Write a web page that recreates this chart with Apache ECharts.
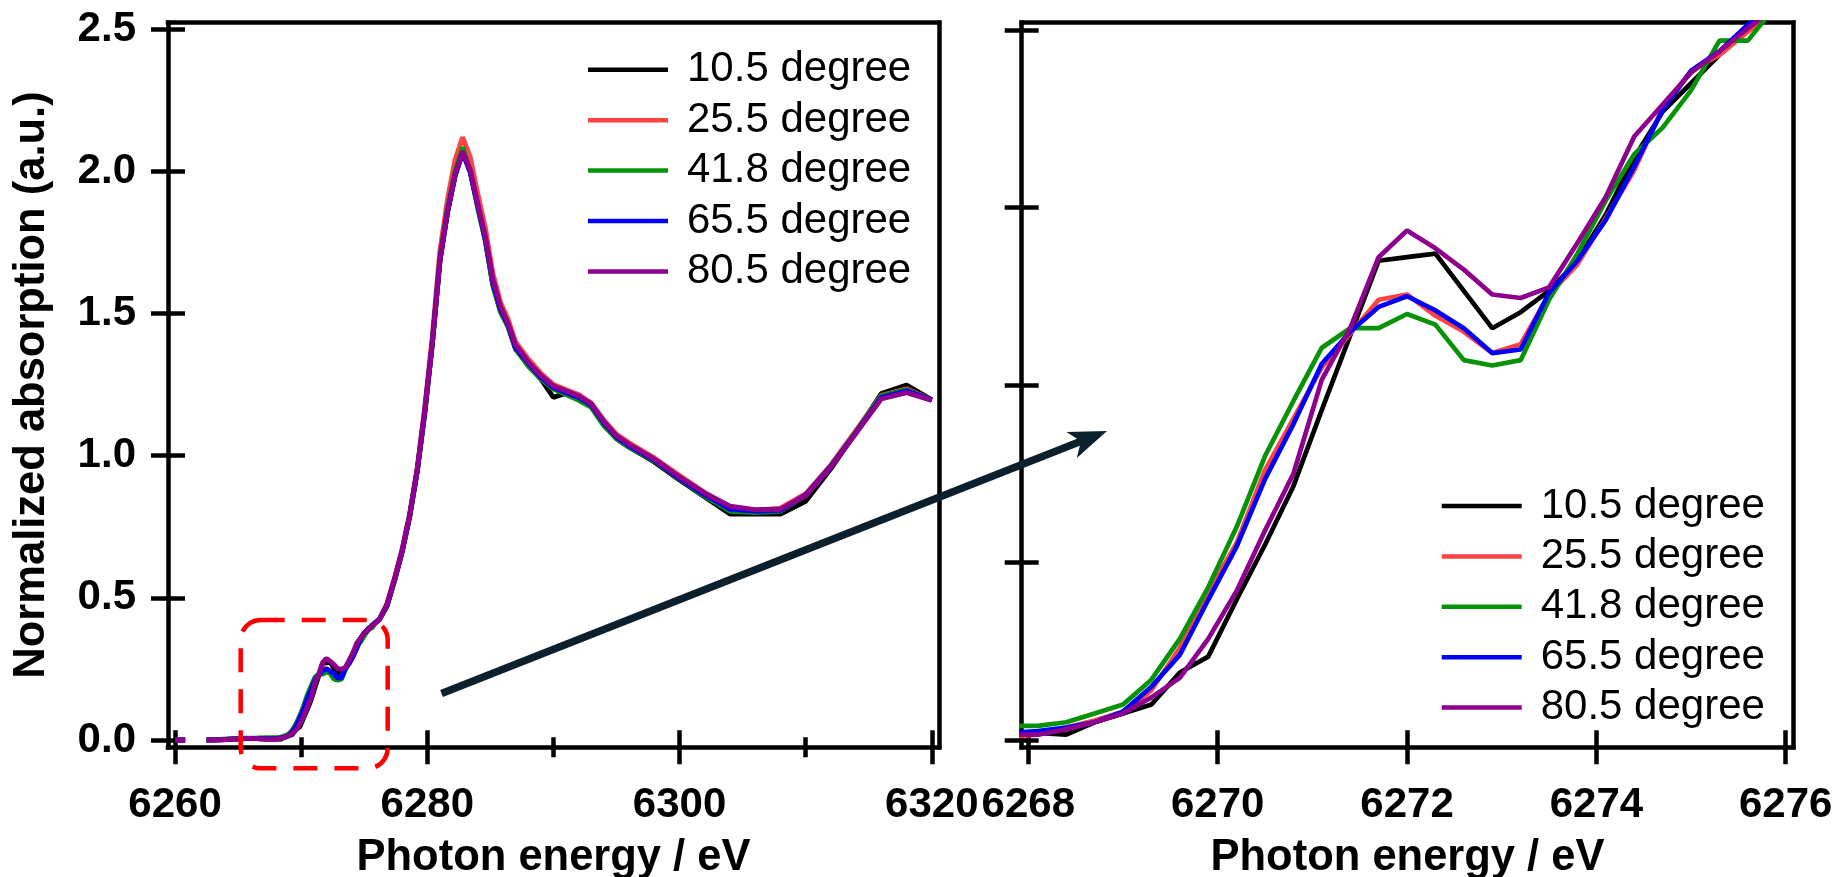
<!DOCTYPE html>
<html>
<head>
<meta charset="utf-8">
<title>Normalized absorption vs photon energy</title>
<script src="https://cdn.jsdelivr.net/npm/echarts@6/dist/echarts.min.js"></script>
<style>
  html, body { margin: 0; padding: 0; background: #ffffff; }
  #chart { width: 1839px; height: 877px; }
</style>
</head>
<body>
<div id="chart"></div>
<script>
// Photon energy (eV) shared by every spectrum; null values mark the missing stretch near 6261 eV
const energy = [
  6260.0, 6260.8, 6261.6, 6262.5, 6263.5, 6264.5, 6265.5, 6266.5, 6267.2,
  6267.8, 6268.1, 6268.4, 6268.7, 6269.0, 6269.3, 6269.6, 6269.9, 6270.2, 6270.5,
  6270.8, 6271.1, 6271.4, 6271.7, 6272.0, 6272.3, 6272.6, 6272.9, 6273.2, 6273.5,
  6273.8, 6274.1, 6274.4, 6274.7, 6275.0, 6275.3, 6275.6, 6275.9, 6276.2,
  6276.8, 6277.4, 6278.0, 6278.6, 6279.2, 6279.8, 6280.4, 6281.0, 6281.6, 6282.2,
  6282.8, 6283.4, 6284.0, 6284.6, 6285.2, 6285.8, 6286.4, 6287.0,
  6288.0, 6289.0, 6290.0, 6291.0, 6292.0, 6293.0, 6294.0, 6295.0, 6296.0,
  6298.0, 6300.0, 6302.0, 6304.0, 6306.0, 6308.0, 6310.0, 6312.0, 6314.0,
  6316.0, 6318.0, 6320.0
];

const deg10_5 = [
  0.000, 0.000, null, 0.000, 0.001, 0.003, 0.005, 0.005, 0.004,
  0.004, 0.004, 0.003, 0.010, 0.015, 0.020, 0.038, 0.047, 0.079, 0.110,
  0.143, 0.186, 0.228, 0.270, 0.272, 0.274, 0.253, 0.232, 0.241, 0.253,
  0.270, 0.296, 0.328, 0.354, 0.370, 0.386, 0.400, 0.412, 0.424,
  0.470, 0.560, 0.660, 0.785, 0.945, 1.150, 1.395, 1.685, 1.855, 1.985,
  2.070, 2.000, 1.880, 1.760, 1.600, 1.510, 1.455, 1.375,
  1.320, 1.270, 1.205, 1.220, 1.205, 1.175, 1.110, 1.060, 1.030,
  0.978, 0.915, 0.855, 0.795, 0.795, 0.795, 0.840, 0.955, 1.085,
  1.218, 1.248, 1.196
];

const deg25_5 = [
  0.000, 0.000, null, 0.000, 0.001, 0.003, 0.005, 0.005, 0.003,
  0.002, 0.003, 0.007, 0.011, 0.016, 0.028, 0.052, 0.083, 0.111, 0.152,
  0.181, 0.210, 0.229, 0.248, 0.251, 0.239, 0.230, 0.218, 0.223, 0.251,
  0.268, 0.294, 0.321, 0.356, 0.377, 0.386, 0.399, 0.412, 0.424,
  0.480, 0.570, 0.670, 0.795, 0.955, 1.170, 1.420, 1.720, 1.900, 2.040,
  2.120, 2.050, 1.920, 1.800, 1.640, 1.540, 1.480, 1.400,
  1.340, 1.290, 1.250, 1.232, 1.215, 1.185, 1.125, 1.075, 1.045,
  0.992, 0.930, 0.870, 0.820, 0.808, 0.815, 0.866, 0.968, 1.090,
  1.212, 1.235, 1.196
];

const deg41_8 = [
  0.000, 0.000, null, 0.000, 0.002, 0.004, 0.006, 0.007, 0.008,
  0.008, 0.008, 0.010, 0.015, 0.020, 0.034, 0.057, 0.086, 0.120, 0.160,
  0.191, 0.221, 0.232, 0.232, 0.240, 0.234, 0.214, 0.211, 0.214, 0.248,
  0.274, 0.304, 0.330, 0.345, 0.366, 0.394, 0.394, 0.414, 0.424,
  0.472, 0.562, 0.662, 0.787, 0.948, 1.155, 1.400, 1.695, 1.870, 2.000,
  2.085, 2.000, 1.870, 1.755, 1.600, 1.505, 1.455, 1.375,
  1.315, 1.270, 1.235, 1.215, 1.195, 1.170, 1.105, 1.060, 1.030,
  0.982, 0.918, 0.858, 0.805, 0.800, 0.805, 0.860, 0.962, 1.085,
  1.210, 1.232, 1.196
];

const deg65_5 = [
  0.000, 0.000, null, 0.000, 0.001, 0.003, 0.005, 0.005, 0.004,
  0.004, 0.005, 0.007, 0.010, 0.016, 0.030, 0.048, 0.079, 0.109, 0.147,
  0.178, 0.212, 0.230, 0.244, 0.250, 0.242, 0.232, 0.218, 0.220, 0.252,
  0.270, 0.293, 0.323, 0.355, 0.377, 0.388, 0.403, 0.414, 0.424,
  0.474, 0.564, 0.664, 0.788, 0.948, 1.155, 1.398, 1.688, 1.858, 1.985,
  2.065, 1.998, 1.880, 1.762, 1.610, 1.515, 1.460, 1.380,
  1.325, 1.276, 1.240, 1.222, 1.205, 1.178, 1.115, 1.065, 1.035,
  0.985, 0.920, 0.862, 0.812, 0.805, 0.808, 0.862, 0.962, 1.082,
  1.205, 1.228, 1.196
];

const deg80_5 = [
  0.000, 0.000, null, 0.000, 0.001, 0.003, 0.005, 0.005, 0.003,
  0.003, 0.003, 0.006, 0.010, 0.015, 0.024, 0.035, 0.057, 0.084, 0.118,
  0.150, 0.203, 0.232, 0.272, 0.287, 0.277, 0.265, 0.251, 0.249, 0.255,
  0.280, 0.306, 0.340, 0.358, 0.376, 0.388, 0.401, 0.413, 0.424,
  0.475, 0.565, 0.665, 0.790, 0.950, 1.160, 1.400, 1.690, 1.860, 1.990,
  2.070, 2.005, 1.885, 1.770, 1.620, 1.525, 1.465, 1.390,
  1.330, 1.282, 1.245, 1.228, 1.210, 1.182, 1.120, 1.070, 1.040,
  0.988, 0.925, 0.868, 0.822, 0.810, 0.812, 0.860, 0.960, 1.080,
  1.200, 1.222, 1.195
];

const seriesNames = ['10.5 degree', '25.5 degree', '41.8 degree', '65.5 degree', '80.5 degree'];
const seriesValues = [deg10_5, deg25_5, deg41_8, deg65_5, deg80_5];
const seriesColors = ['#000000', '#ff4343', '#069406', '#0000fe', '#8e008e'];

// Tick positions
const overviewXTicks = [6260, 6280, 6300, 6320];
const overviewXMinorTicks = [6270, 6290, 6310];
const overviewYTicks = [0, 0.5, 1.0, 1.5, 2.0, 2.5];
const detailXTicks = [6268, 6270, 6272, 6274, 6276];
const detailYTicks = [0, 0.1, 0.2, 0.3, 0.4];

const FONT = "'Liberation Sans', Arial, Helvetica, sans-serif";
const AXIS_W = 4.5;

const chart = echarts.init(document.getElementById('chart'), null, { renderer: 'canvas' });

// Panel geometry and ranges
const panels = [
  { left: 168, width: 771, xMin: 6259.44, xMax: 6320.57, yMin: -0.0257, yMax: 2.523, lw: 5 },
  { left: 1021.7, width: 771.6, xMin: 6267.93, xMax: 6276.08, yMin: -0.0041, yMax: 0.4041, lw: 4.7 }
];
const gridTop = 22.7, gridHeight = 724.6;

function lineStyle() { return { color: '#000', width: AXIS_W, cap: 'square' }; }

const titleStyle = { fontFamily: FONT, fontWeight: 'bold', fontSize: 43.5, color: '#000' };

function xAxis(gridIndex, p, cfg) {
  return {
    type: 'value', gridIndex, min: p.xMin, max: p.xMax,
    position: cfg.position || 'bottom',
    axisLine: { show: !!cfg.line, onZero: false, lineStyle: lineStyle() },
    axisTick: cfg.ticks ? {
      show: true, inside: !!cfg.inside, length: cfg.tickLen,
      customValues: cfg.ticks, lineStyle: { color: '#000', width: AXIS_W }
    } : { show: false },
    axisLabel: cfg.labels ? {
      show: true, customValues: cfg.labels, margin: 37,
      fontFamily: FONT, fontWeight: 'bold', fontSize: 42, color: '#000',
      formatter: v => String(Math.round(v))
    } : { show: false },
    name: cfg.name || '', nameLocation: 'middle', nameGap: 89,
    nameTextStyle: titleStyle,
    splitLine: { show: false }, minorTick: { show: false }
  };
}

function yAxis(gridIndex, p, cfg) {
  return {
    type: 'value', gridIndex, min: p.yMin, max: p.yMax,
    position: cfg.position || 'left',
    axisLine: { show: !!cfg.line, onZero: false, lineStyle: lineStyle() },
    axisTick: cfg.ticks ? {
      show: true, inside: !!cfg.inside, length: cfg.tickLen,
      customValues: cfg.ticks, lineStyle: { color: '#000', width: AXIS_W }
    } : { show: false },
    axisLabel: cfg.labels ? {
      show: true, customValues: cfg.labels, margin: 32,
      fontFamily: FONT, fontWeight: 'bold', fontSize: 42, color: '#000',
      formatter: v => v.toFixed(1)
    } : { show: false },
    name: cfg.name || '', nameLocation: 'middle', nameGap: 114,
    nameTextStyle: titleStyle,
    splitLine: { show: false }, minorTick: { show: false }
  };
}

const L = panels[0], R = panels[1];

const xAxes = [
  // overview panel (indices 0-4)
  xAxis(0, L, { line: true, ticks: overviewXTicks, tickLen: 17, labels: overviewXTicks, name: 'Photon energy / eV' }),
  xAxis(0, L, { ticks: overviewXTicks, tickLen: 17, inside: true }),
  xAxis(0, L, { ticks: overviewXMinorTicks, tickLen: 10 }),
  xAxis(0, L, { ticks: overviewXMinorTicks, tickLen: 10, inside: true }),
  xAxis(0, L, { line: true, position: 'top' }),
  // detail panel (indices 5-7)
  xAxis(1, R, { line: true, ticks: detailXTicks, tickLen: 17, labels: detailXTicks, name: 'Photon energy / eV' }),
  xAxis(1, R, { ticks: detailXTicks, tickLen: 17, inside: true }),
  xAxis(1, R, { line: true, position: 'top' })
];

const yAxes = [
  // overview panel (indices 0-2)
  yAxis(0, L, { line: true, ticks: overviewYTicks, tickLen: 17, labels: overviewYTicks, name: 'Normalized absorption (a.u.)' }),
  yAxis(0, L, { ticks: overviewYTicks, tickLen: 17, inside: true }),
  yAxis(0, L, { line: true, position: 'right' }),
  // detail panel (indices 3-5)
  yAxis(1, R, { line: true, ticks: detailYTicks, tickLen: 17 }),
  yAxis(1, R, { ticks: detailYTicks, tickLen: 17, inside: true }),
  yAxis(1, R, { line: true, position: 'right' })
];

function buildSeries(xIdx, yIdx, width) {
  return seriesNames.map((name, k) => ({
    name, type: 'line', xAxisIndex: xIdx, yAxisIndex: yIdx,
    data: energy.map((e, i) => [e, seriesValues[k][i] === null ? '-' : seriesValues[k][i]]),
    showSymbol: false, symbol: 'none', connectNulls: false, clip: true,
    lineStyle: { color: seriesColors[k], width },
    itemStyle: { color: seriesColors[k] },
    emphasis: { disabled: true }, z: 3 + k
  }));
}

function legend(left, top) {
  return {
    orient: 'vertical', left, top, padding: 0,
    icon: 'rect', itemWidth: 80, itemHeight: 4.5, itemGap: 8.4,
    data: seriesNames, selectedMode: false,
    textStyle: { fontFamily: FONT, fontSize: 42, lineHeight: 41, color: '#000', padding: [0, 0, 0, 14] }
  };
}

// Arrow linking the boxed pre-edge region to the detail panel
const arrowStart = [441.5, 693.5];
const arrowTip = [1107, 431];
const ux = (arrowTip[0] - arrowStart[0]), uy = (arrowTip[1] - arrowStart[1]);
const ulen = Math.hypot(ux, uy);
const dx = ux / ulen, dy = uy / ulen;
const headLen = 38, headHalf = 14, notch = 28;
const notchPt = [arrowTip[0] - dx * notch, arrowTip[1] - dy * notch];
const basePt = [arrowTip[0] - dx * headLen, arrowTip[1] - dy * headLen];
const c1 = [basePt[0] - dy * headHalf, basePt[1] + dx * headHalf];
const c2 = [basePt[0] + dy * headHalf, basePt[1] - dx * headHalf];
const ARROW_COLOR = '#0b1f2c';

chart.setOption({
  animation: false,
  backgroundColor: '#ffffff',
  grid: [
    { left: L.left, top: gridTop, width: L.width, height: gridHeight, containLabel: false, outerBoundsMode: 'none' },
    { left: R.left, top: gridTop, width: R.width, height: gridHeight, containLabel: false, outerBoundsMode: 'none' }
  ],
  xAxis: xAxes,
  yAxis: yAxes,
  legend: [legend(588, 48.8), legend(1441.7, 485)],
  series: [...buildSeries(0, 0, L.lw), ...buildSeries(5, 3, R.lw)],
  graphic: [
    {
      type: 'rect', z: 100,
      shape: { x: 240.7, y: 620, width: 147, height: 148.3, r: 20 },
      style: { fill: 'none', stroke: '#ff0000', lineWidth: 4.5, lineDash: [24, 17] }
    },
    {
      type: 'line', z: 100,
      shape: { x1: arrowStart[0], y1: arrowStart[1], x2: notchPt[0], y2: notchPt[1] },
      style: { stroke: ARROW_COLOR, lineWidth: 7.5 }
    },
    {
      type: 'polygon', z: 100,
      shape: { points: [arrowTip, c1, notchPt, c2] },
      style: { fill: ARROW_COLOR }
    }
  ]
});
</script>
</body>
</html>
